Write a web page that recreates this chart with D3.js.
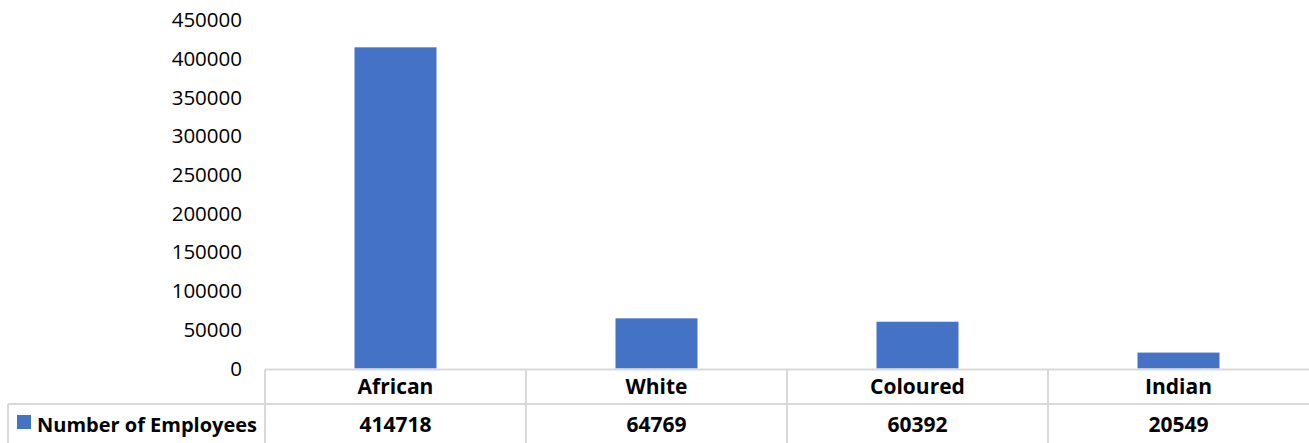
<!DOCTYPE html>
<meta charset="utf-8" />
<script src="https://d3js.org/d3.v7.min.js"></script>
<style>
  body { margin: 0; background: #fff; }
  svg text { font-family: "Open Sans", "Noto Sans", sans-serif; fill: #000; }
</style>
<div id="my_dataviz"></div>
<script>
  // chart data
  var categories = ["African", "White", "Coloured", "Indian"];
  var values = [414718, 64769, 60392, 20549];
  var seriesName = "Number of Employees";
  var yTicks = [0, 50000, 100000, 150000, 200000, 250000, 300000, 350000, 400000, 450000];

  var W = 1309, H = 443;
  var plotLeft = 265, plotRight = 1309, plotTop = 20, plotBottom = 368.5;
  var tableLeft = 8, row1 = 404, tableBottom = 443;

  var svg = d3.select("#my_dataviz")
    .append("svg")
    .attr("width", W)
    .attr("height", H);

  var x = d3.scaleBand().domain(categories).range([plotLeft, plotRight]).paddingInner(0).paddingOuter(0);
  var y = d3.scaleLinear().domain([0, 450000]).range([plotBottom, plotTop]);

  // Y axis labels (no axis line, Excel style)
  var yAxis = d3.axisLeft(y).tickValues(yTicks).tickSize(0).tickPadding(0).tickFormat(d3.format("d"));
  var gy = svg.append("g").attr("transform", "translate(242,0)").call(yAxis);
  gy.select(".domain").remove();
  gy.selectAll("text")
    .style("font-family", "\"Open Sans\", sans-serif")
    .style("font-size", "20.5px")
    .attr("fill", "#000");

  // bars
  var barW = 82;
  svg.append("g")
    .selectAll("rect")
    .data(values)
    .enter()
    .append("rect")
    .attr("x", function (d, i) { return x(categories[i]) + x.bandwidth() / 2 - barW / 2; })
    .attr("y", function (d) { return y(d); })
    .attr("width", barW)
    .attr("height", function (d) { return y(0) - y(d); })
    .attr("fill", "#4472C4");

  // data table lines
  var lineColor = "#d9d9d9";
  var grid = svg.append("g").attr("stroke", lineColor).attr("stroke-width", 2);
  grid.append("line").attr("x1", plotLeft).attr("x2", plotRight).attr("y1", plotBottom + 1).attr("y2", plotBottom + 1);
  grid.append("line").attr("x1", tableLeft).attr("x2", plotRight).attr("y1", row1).attr("y2", row1);
  grid.append("line").attr("x1", tableLeft).attr("x2", tableLeft).attr("y1", row1).attr("y2", tableBottom);
  grid.selectAll(".vsep")
    .data(categories)
    .enter()
    .append("line")
    .attr("x1", function (d) { return x(d); })
    .attr("x2", function (d) { return x(d); })
    .attr("y1", plotBottom + 1)
    .attr("y2", tableBottom);

  // category row
  svg.append("g")
    .selectAll("text")
    .data(categories)
    .enter()
    .append("text")
    .attr("x", function (d) { return x(d) + x.bandwidth() / 2; })
    .attr("y", 394)
    .attr("text-anchor", "middle")
    .style("font-size", "21px")
    .style("font-weight", "bold")
    .text(function (d) { return d; });

  // values row
  svg.append("g")
    .selectAll("text")
    .data(values)
    .enter()
    .append("text")
    .attr("x", function (d, i) { return x(categories[i]) + x.bandwidth() / 2; })
    .attr("y", 432)
    .attr("text-anchor", "middle")
    .style("font-size", "21px")
    .style("font-weight", "bold")
    .text(function (d) { return d; });

  // legend key + series name
  svg.append("rect")
    .attr("x", 17).attr("y", 415).attr("width", 14).attr("height", 14)
    .attr("fill", "#4472C4");
  svg.append("text")
    .attr("x", 37)
    .attr("y", 432)
    .style("font-size", "20px")
    .style("font-weight", "bold")
    .text(seriesName);
</script>
